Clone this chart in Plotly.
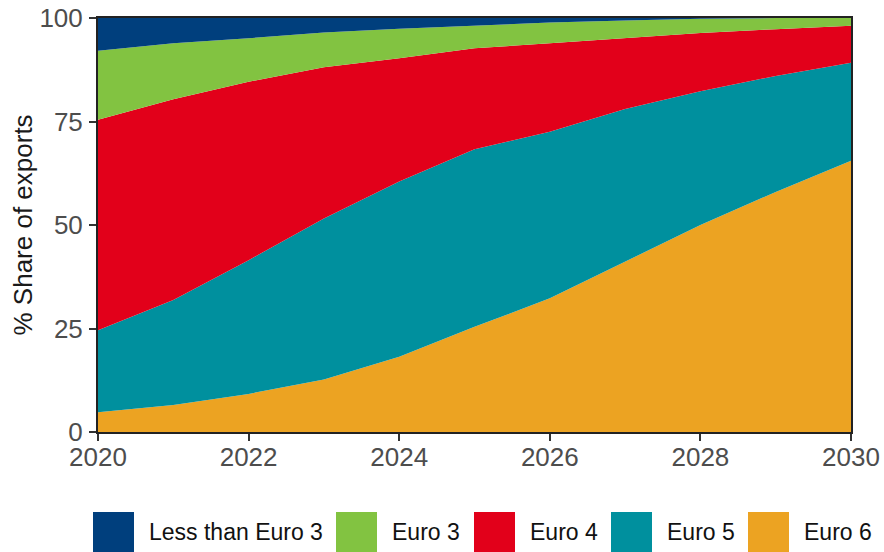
import plotly.graph_objects as go

years = [2020, 2021, 2022, 2023, 2024, 2025, 2026, 2027, 2028, 2029, 2030]
series_names = ["Euro 6", "Euro 5", "Euro 4", "Euro 3", "Less than Euro 3"]
euro6 = [4.8, 6.5, 9.2, 12.7, 18.2, 25.4, 32.3, 41.1, 50.0, 58.0, 65.5]
euro5 = [19.8, 25.4, 32.3, 38.9, 42.3, 42.9, 40.2, 36.9, 32.3, 28.0, 23.7]
euro4 = [50.8, 48.5, 43.1, 36.5, 29.8, 24.4, 21.4, 17.2, 14.1, 11.3, 8.9]
euro3 = [16.7, 13.5, 10.5, 8.4, 7.1, 5.4, 5.0, 4.2, 3.4, 2.7, 1.9]
below3 = [7.9, 6.1, 4.9, 3.5, 2.6, 1.9, 1.1, 0.6, 0.2, 0.0, 0.0]
y_ticks = [0, 25, 50, 75, 100]
x_ticks = [2020, 2022, 2024, 2026, 2028, 2030]
y_title = "% Share of exports"

colors = {
    "Less than Euro 3": "#003F7D",
    "Euro 3": "#82C341",
    "Euro 4": "#E2001A",
    "Euro 5": "#00909E",
    "Euro 6": "#ECA322",
}
values = [euro6, euro5, euro4, euro3, below3]

W, H = 884, 552
L, R, T, B = 98, 33, 18, 120
pw, ph = W - L - R, H - T - B

fig = go.Figure()
for name, vals in zip(series_names, values):
    fig.add_trace(go.Scatter(
        x=years, y=vals, name=name, mode="lines", stackgroup="one",
        line=dict(width=0, color=colors[name]), fillcolor=colors[name],
        showlegend=False, hoverinfo="skip",
    ))

font = "Liberation Sans, Arial, sans-serif"
fig.update_layout(
    width=W, height=H,
    margin=dict(l=L, r=R, t=T, b=B, pad=0, autoexpand=False),
    plot_bgcolor="white", paper_bgcolor="white",
    font=dict(family=font, size=26, color="#4D4D4D"),
    xaxis=dict(range=[2020, 2030], tickvals=x_ticks, ticks="outside", ticklen=7,
               tickwidth=2, tickcolor="#333333", showline=True, linewidth=2,
               linecolor="#222222", mirror=True, showgrid=False, zeroline=False,
               automargin=False, ticklabelstandoff=-6,
               tickfont=dict(size=26, color="#4D4D4D")),
    yaxis=dict(range=[0, 100], tickvals=y_ticks, ticks="outside", ticklen=7,
               tickwidth=2, tickcolor="#333333", showline=True, linewidth=2,
               linecolor="#222222", mirror=True, showgrid=False, zeroline=False,
               automargin=False, ticklabelstandoff=1,
               tickfont=dict(size=26, color="#4D4D4D")),
)


def px(x):
    return (x - L) / pw


def py(y):
    return (H - B - y) / ph


# y-axis title placed as rotated text
fig.add_annotation(xref="paper", yref="paper", x=px(22.5), y=0.5, text=y_title,
                   textangle=-90, showarrow=False, xanchor="center", yanchor="middle",
                   font=dict(family=font, size=26, color="#1A1A1A"))

# custom legend (swatches + labels)
legend_order = ["Less than Euro 3", "Euro 3", "Euro 4", "Euro 5", "Euro 6"]
swatch_x = [93, 336, 474, 611, 748]
sw_w, sw_top, sw_bot = 41, 512, 552

for name, sx in zip(legend_order, swatch_x):
    fig.add_shape(type="rect", xref="paper", yref="paper",
                  x0=px(sx), x1=px(sx + sw_w), y0=py(sw_bot), y1=py(sw_top),
                  fillcolor=colors[name], line=dict(width=0), layer="above")
    fig.add_annotation(xref="paper", yref="paper", x=px(sx + sw_w + 13),
                       y=py((sw_top + sw_bot) / 2), text=name, showarrow=False,
                       xanchor="left", yanchor="middle",
                       font=dict(family=font, size=23, color="#111111"))

fig.write_html(
    "out.html",
    config={"displayModeBar": False, "staticPlot": True},
    post_script="document.body.style.margin='0';document.body.style.overflow='hidden';",
)
